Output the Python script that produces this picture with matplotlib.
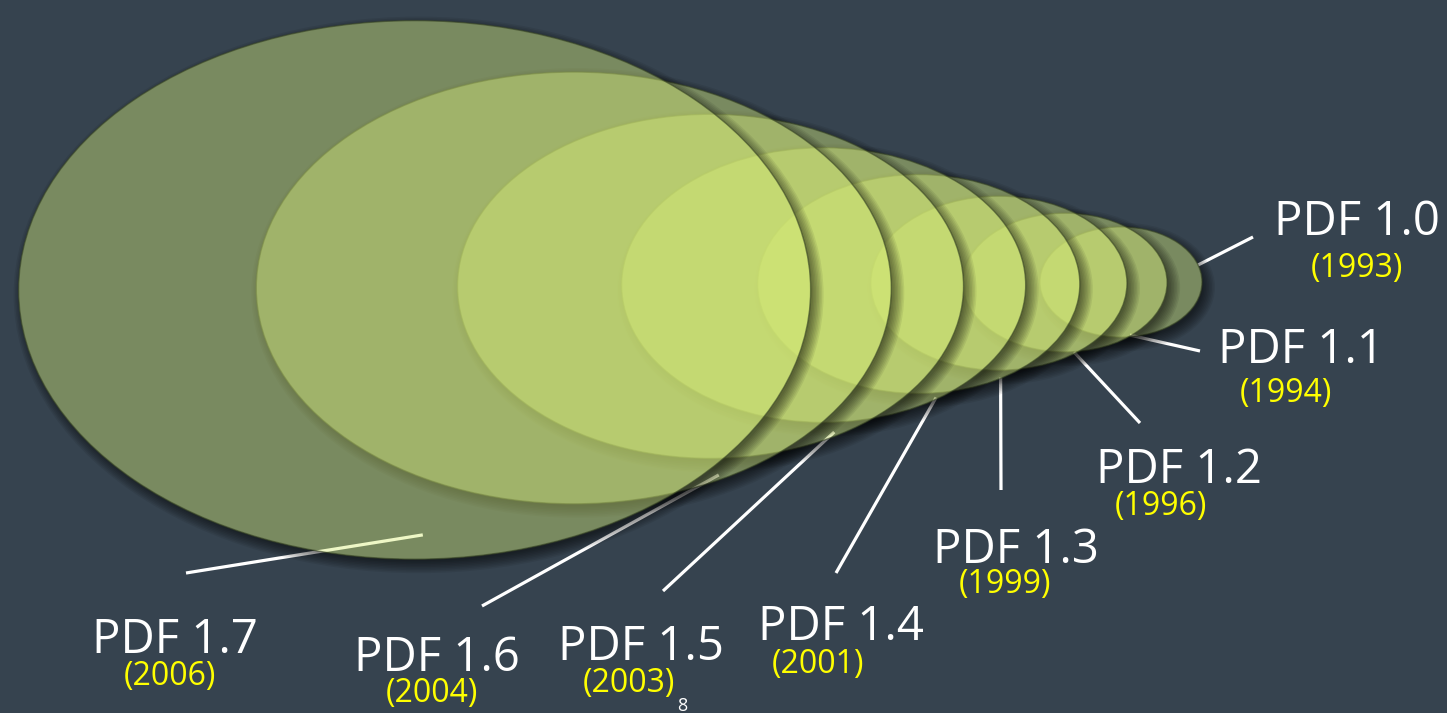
import numpy as np
import matplotlib
matplotlib.use("Agg")
import matplotlib.pyplot as plt
from matplotlib.patches import Ellipse
from matplotlib.path import Path

# ---------------- data ----------------
versions = ["PDF 1.0", "PDF 1.1", "PDF 1.2", "PDF 1.3",
            "PDF 1.4", "PDF 1.5", "PDF 1.6", "PDF 1.7"]
years = ["(1993)", "(1994)", "(1996)", "(1999)",
         "(2001)", "(2003)", "(2004)", "(2006)"]
relative_size = [162, 204, 256, 322, 404, 506, 635, 792]

# ---------------- layout / style ----------------
W, H = 1447, 713
BG = "#36434f"
FILL = "#d8ee78"
ALPHA = 0.42
ASPECT = 0.68          # ellipse height / width
ANCHOR_X, SPREAD, POWER = 1397.0, 4.713, 0.8
CY0, CY_SLOPE = 280.0, 0.0125

# leader line: start on ellipse (angle deg, radial factor), end point
lead_angle = [-18, 50, 53.5, 59.3, 55.8, 60, 62.2, 88.7]
lead_k = [1.0, 0.99, 0.985, 0.995, 0.99, 0.978, 0.979, 0.91]
lead_end = [(1253, 237), (1200, 351), (1140, 423), (1001, 490),
            (836, 573), (663, 591), (482, 606), (186, 573)]
# label positions (center x, baseline y)
title_pos = [(1357, 235), (1301, 363), (1179, 483), (1016, 563),
             (841, 640), (641, 660), (437, 671), (175, 653)]
year_pos = [(1357, 277), (1286, 402), (1161, 515), (1005, 593),
            (818, 673), (629, 692), (432, 702), (170, 685)]

plt.rcParams['font.family'] = ['Open Sans', 'DejaVu Sans']

fig = plt.figure(figsize=(W / 100, H / 100), dpi=100)
fig.patch.set_facecolor(BG)
ax = fig.add_axes([0, 0, 1, 1])
ax.set_facecolor(BG)
ax.set_xlim(0, W)
ax.set_ylim(H, 0)
ax.axis("off")

sizes = np.array(relative_size, dtype=float)
cxs = ANCHOR_X - SPREAD * sizes ** POWER
cys = CY0 + CY_SLOPE * sizes
ws = sizes
hs = sizes * ASPECT

# leader lines (drawn underneath the translucent ellipses)
for i in range(len(versions)):
    th = np.deg2rad(lead_angle[i])
    sx = cxs[i] + ws[i] / 2 * lead_k[i] * np.cos(th)
    sy = cys[i] + hs[i] / 2 * lead_k[i] * np.sin(th)
    ex, ey = lead_end[i]
    ax.plot([sx, ex], [sy, ey], color="white", lw=2.3,
            solid_capstyle="butt", zorder=1)

t = np.linspace(0, 2 * np.pi, 400)
z = 2
for i in range(len(versions)):
    cx, cy, w, h = cxs[i], cys[i], ws[i], hs[i]
    # clip region: everything outside this ellipse
    ex_ = cx + w / 2 * np.cos(t[::-1])
    ey_ = cy + h / 2 * np.sin(t[::-1])
    rect = np.array([(-10, -10), (W + 10, -10), (W + 10, H + 10),
                     (-10, H + 10), (-10, -10)])
    verts = np.vstack([rect, np.column_stack([ex_, ey_]), [[ex_[0], ey_[0]]]])
    codes = ([Path.MOVETO] + [Path.LINETO] * 3 + [Path.CLOSEPOLY] +
             [Path.MOVETO] + [Path.LINETO] * (len(ex_) - 1) + [Path.CLOSEPOLY])
    clip = Path(verts, codes)
    # soft drop shadow
    for s in np.linspace(-3, 9, 9):
        sh = Ellipse((cx + 4, cy + 5), w + 2 * s, h + 2 * s,
                     facecolor="black", edgecolor="none", alpha=0.07,
                     zorder=z)
        ax.add_patch(sh)
        sh.set_clip_path(clip, ax.transData)
    z += 1
    el = Ellipse((cx, cy), w, h, facecolor=FILL, alpha=ALPHA,
                 edgecolor="none", zorder=z)
    ax.add_patch(el)
    edge = Ellipse((cx, cy), w, h, facecolor="none",
                   edgecolor=(0.22, 0.27, 0.14, 0.6), lw=1.0, zorder=z)
    ax.add_patch(edge)
    z += 1

for i in range(len(versions)):
    x, y = title_pos[i]
    ax.text(x, y, versions[i], color="white", fontsize=34,
            ha="center", va="baseline", zorder=50)
    x, y = year_pos[i]
    ax.text(x, y, years[i], color="#ffff00", fontsize=23,
            ha="center", va="baseline", zorder=50)

ax.text(682, 711, "8", color="white", fontsize=13, ha="center",
        va="baseline", zorder=50)

fig.savefig("out.png", dpi=100, facecolor=BG)
